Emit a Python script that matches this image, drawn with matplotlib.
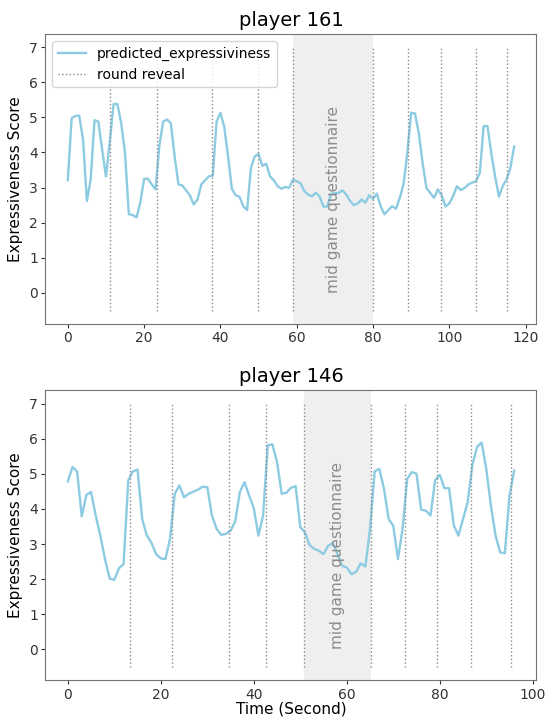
import matplotlib
matplotlib.use("Agg")
import matplotlib.pyplot as plt
import numpy as np

# player 161 (one value per second)
p161_scores = [
    3.21, 4.97, 5.04, 5.05, 4.36, 2.62, 3.23, 4.92, 4.88, 4.08,
    3.32, 4.30, 5.38, 5.38, 4.83, 3.98, 2.24, 2.22, 2.15, 2.57,
    3.25, 3.25, 3.09, 2.95, 4.20, 4.88, 4.94, 4.83, 3.89, 3.09,
    3.06, 2.92, 2.78, 2.52, 2.66, 3.09, 3.21, 3.32, 3.34, 4.88,
    5.13, 4.73, 3.89, 2.97, 2.78, 2.74, 2.47, 2.36, 3.56, 3.89,
    3.96, 3.62, 3.68, 3.32, 3.21, 3.04, 2.97, 3.02, 2.99, 3.23,
    3.18, 3.12, 2.90, 2.80, 2.75, 2.85, 2.75, 2.46, 2.46, 2.82,
    2.84, 2.85, 2.92, 2.80, 2.62, 2.50, 2.55, 2.66, 2.57, 2.78,
    2.68, 2.83, 2.47, 2.24, 2.36, 2.47, 2.40, 2.70, 3.10, 4.00,
    5.13, 5.11, 4.55, 3.70, 2.99, 2.85, 2.71, 2.95, 2.78, 2.46,
    2.55, 2.76, 3.04, 2.93, 2.99, 3.09, 3.14, 3.18, 3.42, 4.75,
    4.75, 3.98, 3.32, 2.74, 3.04, 3.23, 3.56, 4.17,
]
p161_reveals = [11.0, 23.4, 37.7, 49.9, 59.1, 80.0, 89.3, 97.7, 106.9, 115.2]
p161_questionnaire = (59.1, 80.0)

# player 146
p146_scores = [
    4.78, 5.19, 5.07, 3.79, 4.40, 4.48, 3.81, 3.24, 2.57, 2.02,
    1.98, 2.31, 2.43, 4.81, 5.07, 5.12, 3.71, 3.24, 3.03, 2.71,
    2.59, 2.57, 3.16, 4.43, 4.67, 4.33, 4.43, 4.49, 4.55, 4.63,
    4.62, 3.81, 3.43, 3.26, 3.29, 3.38, 3.64, 4.48, 4.76, 4.38,
    4.02, 3.24, 3.81, 5.81, 5.84, 5.33, 4.43, 4.46, 4.60, 4.65,
    3.48, 3.33, 2.97, 2.86, 2.81, 2.71, 2.95, 3.03, 2.71, 2.38,
    2.33, 2.14, 2.21, 2.45, 2.36, 3.43, 5.07, 5.14, 4.57, 3.71,
    3.52, 2.57, 3.43, 4.86, 5.05, 5.00, 3.98, 3.95, 3.81, 4.81,
    4.97, 4.59, 4.59, 3.54, 3.24, 3.71, 4.19, 5.24, 5.76, 5.89,
    5.14, 4.09, 3.24, 2.76, 2.74, 4.38, 5.09,
]
p146_reveals = [13.3, 22.5, 34.7, 42.6, 50.9, 65.2, 72.6, 79.5, 86.8, 95.4]
p146_questionnaire = (50.9, 65.2)

players = [
    ("player 161", p161_scores, p161_reveals, p161_questionnaire),
    ("player 146", p146_scores, p146_reveals, p146_questionnaire),
]

fig, axes = plt.subplots(2, 1, figsize=(5.48, 7.22), dpi=100)
fig.subplots_adjust(left=0.083, right=0.979, top=0.953, bottom=0.058, hspace=0.23)

for i, (ax, (title, scores, reveals, (q_start, q_end))) in enumerate(zip(axes, players)):
    t = np.arange(len(scores))
    ax.plot(t, scores, color="#8ccbe2", lw=1.7, label="predicted_expressiviness")
    ax.vlines(reveals, -0.5, 7, colors="#8a8a8a", linestyles=":", lw=1,
              label="round reveal")
    ax.axvspan(q_start, q_end, color="lightgrey", alpha=0.35, lw=0)
    ax.text((q_start + q_end) / 2, 0, "mid game questionnaire", rotation=90,
            ha="center", va="bottom", fontsize=11, color="#8c8c8c")

    ax.set_title(title, fontsize=14)
    ax.set_ylabel("Expressiveness Score", fontsize=11)
    ax.set_yticks(range(0, 8))
    ax.tick_params(labelsize=10, colors="#333333", length=3, pad=2.5)
    for spine in ax.spines.values():
        spine.set_color("0.45")

    if i == 0:
        ax.legend(loc="upper left", fontsize=10)
    else:
        ax.set_xlabel("Time (Second)", fontsize=11, labelpad=0)

plt.savefig("out.png", dpi=100)
plt.close(fig)
